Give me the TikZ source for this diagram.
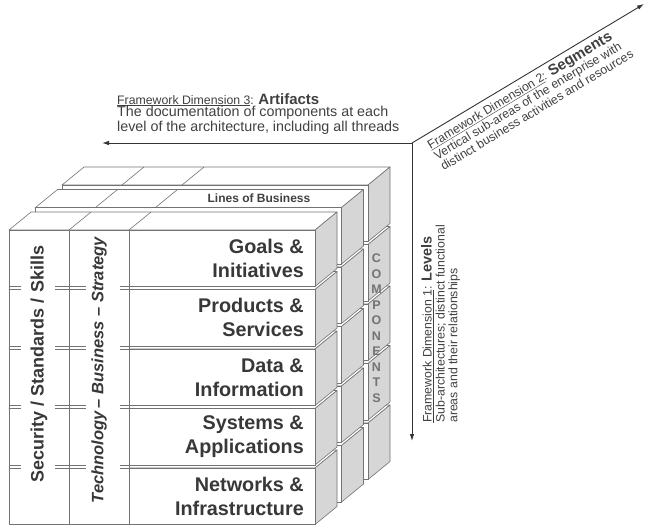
\documentclass[tikz,border=0pt]{standalone}
\usepackage{fontspec}
\setmainfont{Liberation Sans}
\usetikzlibrary{arrows.meta}
\begin{document}
\begin{tikzpicture}[x=1pt,y=-1pt,
  edge/.style={draw=black!55,line width=0.6pt,line join=round},
  face/.style={edge,fill=white},
  shade/.style={edge,fill=black!16},
  axis/.style={draw=black!80,line width=0.9pt,-{Latex[length=7pt,width=4.5pt]}},
  level/.style={font=\fontsize{19.8}{24}\selectfont\bfseries,text=black!78,align=right,anchor=east,inner sep=0pt},
  note/.style={font=\fontsize{12.3}{12.8}\selectfont,text=black!75,align=left,inner sep=0pt},
  ]
\useasboundingbox (0,0) rectangle (652,527);

% slabs, back to front
\foreach \k in {2,1,0}{
  \pgfmathsetmacro\L{9+26.5*\k}
  \pgfmathsetmacro\R{315+26.5*\k}
  \pgfmathsetmacro\T{230-22.5*\k}
  \foreach \i in {4,3,2,1,0}{
    \pgfmathsetmacro\ta{\T+59.5*\i}
    \pgfmathsetmacro\tb{\ta+56.5}
    \draw[face] (\L,\ta) -- (\R,\ta) -- (\R+22,\ta-18) -- (\L+22,\ta-18) -- cycle;
    \draw[shade] (\R,\ta) -- (\R+22,\ta-18) -- (\R+22,\tb-18) -- (\R,\tb) -- cycle;
    \draw[face] (\L,\ta) rectangle (\R,\tb);
  }
  \draw[edge] (\L+60,\T) -- (\L+82,\T-18) (\L+120,\T) -- (\L+142,\T-18);
}

% front columns
\draw[face] (9,230) rectangle (69,524.5);
\draw[face] (69,230) rectangle (129,524.5);
\foreach \i in {1,...,4}{
  \pgfmathsetmacro\ya{230+59.5*\i-3}
  \pgfmathsetmacro\yb{230+59.5*\i}
  \draw[edge] (9,\ya) -- (21,\ya) (9,\yb) -- (21,\yb)
              (55,\ya) -- (86,\ya) (55,\yb) -- (86,\yb)
              (120,\ya) -- (129,\ya) (120,\yb) -- (129,\yb);
}

% labels
\node[level] (goals) at (304,258.25) {Goals \&\\Initiatives};
\node[level] (products) at (304,317.75) {Products \&\\Services};
\node[level] (data) at (304,377.25) {Data \&\\Information};
\node[level] (systems) at (304,436.75) {Systems \&\\Applications};
\node[level] (networks) at (304,496.25) {Networks \&\\Infrastructure};
\node[rotate=90,font=\fontsize{18}{18}\selectfont\bfseries,text=black!78] (security) at (39,364) {Security / Standards / Skills};
\node[rotate=90,font=\fontsize{16.5}{18}\selectfont\bfseries\itshape,text=black!78] (strategy) at (99,370) {Technology\,-- Business -- Strategy};
\node[font=\fontsize{12}{12}\selectfont\bfseries,text=black!75] (business) at (259,198.5) {Lines of Business};
\node[font=\fontsize{12.5}{15.5}\selectfont\bfseries,text=black!55,align=center] (components) at (376.5,328) {C\\O\\M\\P\\O\\N\\E\\N\\T\\S};

% dimensions
\coordinate (origin) at (412,143);
\coordinate (artEnd) at (102,143);
\coordinate (lvlEnd) at (412,441);
\coordinate (segEnd) at (644,4);
\draw[axis] (origin) -- (artEnd);
\draw[axis] (origin) -- (lvlEnd);
\draw[axis] (origin) -- (segEnd);

\node[note,anchor=north west] (artifacts) at (117,93) {\underline{Framework Dimension 3}: {\fontsize{15}{12.8}\selectfont\bfseries Artifacts}\\\fontsize{14.3}{14.5}\selectfont The documentation of components at each\\\fontsize{14.3}{14.5}\selectfont level of the architecture, including all threads};
\node[note,rotate=90,anchor=north west] (levels) at (421,423) {\underline{Framework Dimension 1}: {\fontsize{14.5}{12.8}\selectfont\bfseries Levels}\\Sub-architectures; distinct functional\\areas and their relationships};
\node[note,rotate=31,anchor=north west] (segments) at (425,140) {\underline{Framework Dimension 2}: {\fontsize{15}{12.8}\selectfont\bfseries Segments}\\Vertical sub-areas of the enterprise with\\distinct business activities and resources};
\end{tikzpicture}
\end{document}
